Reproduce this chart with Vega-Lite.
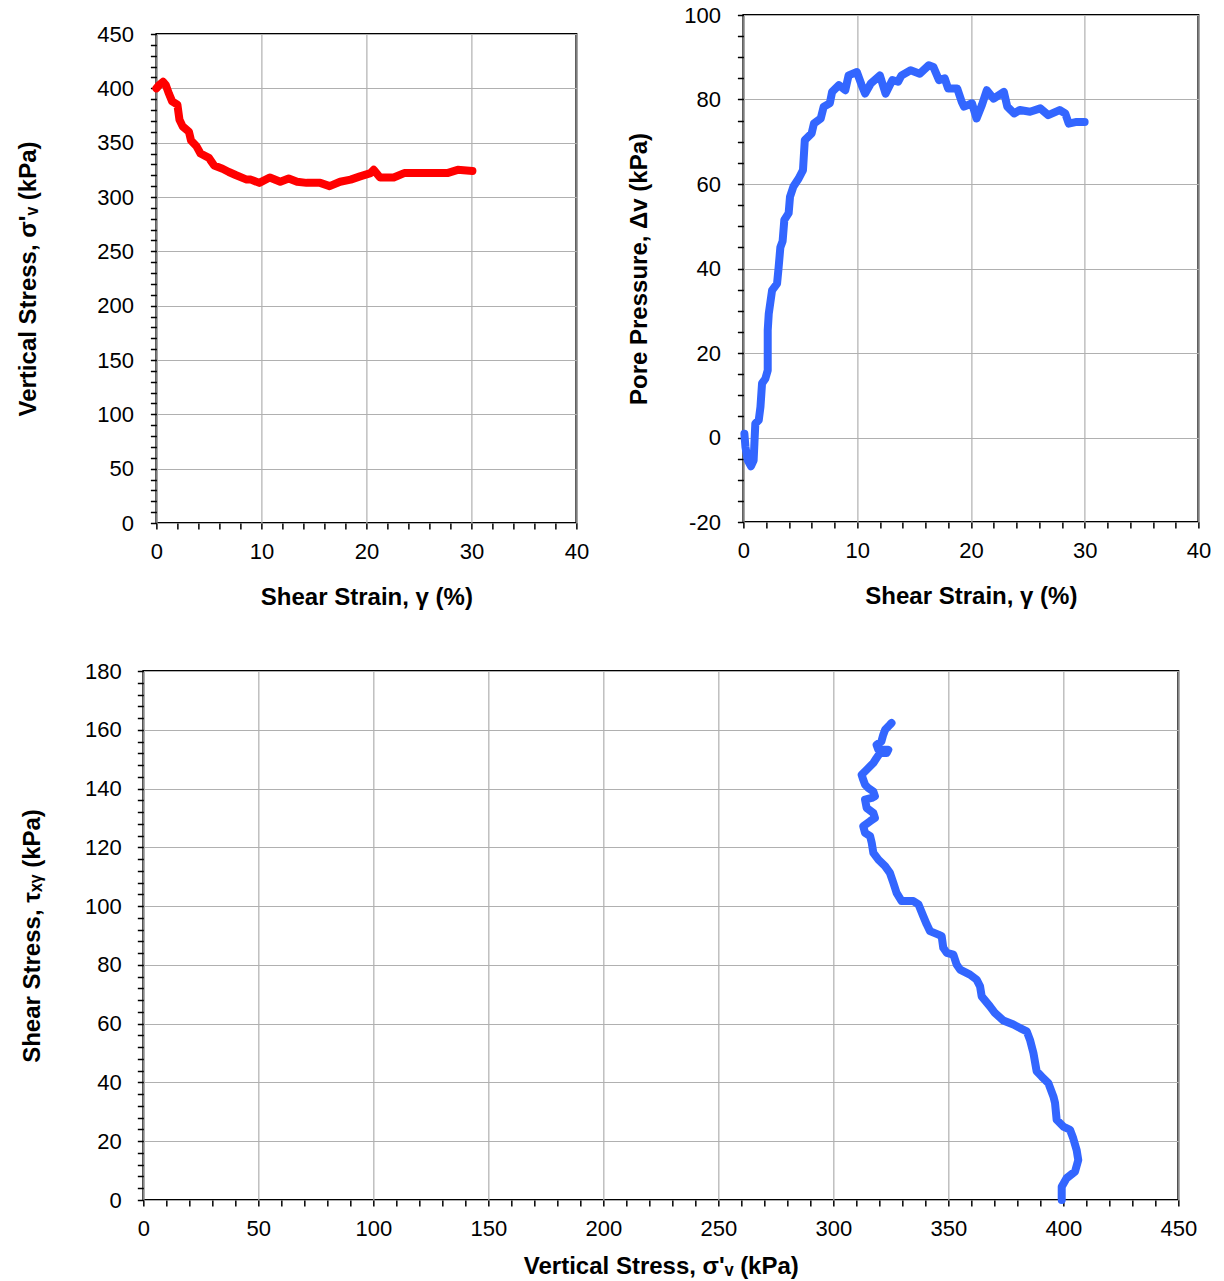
{
  "$schema": "https://vega.github.io/schema/vega-lite/v6.json",
  "background": "white",
  "padding": {"left": 15, "top": 3, "right": 0, "bottom": 0},
  "config": {
    "font": "Liberation Sans",
    "view": {"stroke": "black", "strokeWidth": 2},
    "axis": {
      "labelFont": "Liberation Sans", "labelFontSize": 22, "labelColor": "black",
      "titleFont": "Liberation Sans", "titleFontSize": 24, "titleFontWeight": "bold", "titleColor": "black",
      "tickColor": "black", "tickSize": 6, "tickWidth": 1.5, "domain": false,
      "gridColor": "#b0b0b0", "gridWidth": 1.2, "labelFlush": false, "labelOverlap": false
    }
  },
  "center": true,
  "spacing": 30,
  "vconcat": [
    {
      "spacing": 36,
      "center": true,
      "hconcat": [
        {
          "width": 420, "height": 489,
          "data": {"values": [
            {"i":0,"strain":0,"stress":400},{"i":1,"strain":0.26,"stress":403},{"i":2,"strain":0.64,"stress":406},{"i":3,"strain":0.9,"stress":403},{"i":4,"strain":1.2,"stress":395},{"i":5,"strain":1.5,"stress":388},{"i":6,"strain":2.0,"stress":385},{"i":7,"strain":2.2,"stress":371},{"i":8,"strain":2.5,"stress":365},{"i":9,"strain":3.1,"stress":360},{"i":10,"strain":3.3,"stress":352},{"i":11,"strain":3.8,"stress":347},{"i":12,"strain":4.2,"stress":340},{"i":13,"strain":5.0,"stress":336},{"i":14,"strain":5.5,"stress":329},{"i":15,"strain":6.3,"stress":326},{"i":16,"strain":6.9,"stress":323},{"i":17,"strain":7.6,"stress":320},{"i":18,"strain":8.6,"stress":316},{"i":19,"strain":9.0,"stress":316},{"i":20,"strain":9.8,"stress":313},{"i":21,"strain":10.8,"stress":318},{"i":22,"strain":11.8,"stress":314},{"i":23,"strain":12.6,"stress":317},{"i":24,"strain":13.4,"stress":314},{"i":25,"strain":14.3,"stress":313},{"i":26,"strain":15.6,"stress":313},{"i":27,"strain":16.5,"stress":310},{"i":28,"strain":17.5,"stress":314},{"i":29,"strain":18.5,"stress":316},{"i":30,"strain":19.4,"stress":319},{"i":31,"strain":20.4,"stress":322},{"i":32,"strain":20.7,"stress":325},{"i":33,"strain":21.3,"stress":318},{"i":34,"strain":22.6,"stress":318},{"i":35,"strain":23.6,"stress":322},{"i":36,"strain":25.5,"stress":322},{"i":37,"strain":27.7,"stress":322},{"i":38,"strain":28.7,"stress":325},{"i":39,"strain":30.1,"stress":324}
          ]},
          "mark": {"type": "line", "color": "#ff0000", "strokeWidth": 8, "strokeCap": "round", "strokeJoin": "round"},
          "encoding": {
            "x": {"field": "strain", "type": "quantitative", "scale": {"domain": [0, 40], "nice": false, "zero": false},
              "axis": {"title": "Shear Strain, γ  (%)", "values": [0,2,4,6,8,10,12,14,16,18,20,22,24,26,28,30,32,34,36,38,40],
                "labelExpr": "datum.value % 10 === 0 ? toString(datum.value) : ''",
                "gridOpacity": {"condition": {"test": "datum.value % 10 === 0", "value": 1}, "value": 0},
                "labelPadding": 12, "titlePadding": 23}},
            "y": {"field": "stress", "type": "quantitative", "scale": {"domain": [0, 450], "nice": false, "zero": false},
              "axis": {"title": "Vertical Stress, σ'ᵥ  (kPa)", "values": [0,10,20,30,40,50,60,70,80,90,100,110,120,130,140,150,160,170,180,190,200,210,220,230,240,250,260,270,280,290,300,310,320,330,340,350,360,370,380,390,400,410,420,430,440,450],
                "labelExpr": "datum.value % 50 === 0 ? toString(datum.value) : ''",
                "gridOpacity": {"condition": {"test": "datum.value % 50 === 0", "value": 1}, "value": 0},
                "labelPadding": 17, "titlePadding": 56}},
            "order": {"field": "i", "type": "quantitative"}
          }
        },
        {
          "title": {"text": " ", "orient": "bottom", "fontSize": 2, "offset": 18},
          "width": 455, "height": 507,
          "data": {"values": [
            {"i":0,"strain":0.09,"pp":0.9},{"i":1,"strain":0.18,"pp":-2.2},{"i":2,"strain":0.38,"pp":-5.4},{"i":3,"strain":0.67,"pp":-6.8},{"i":4,"strain":0.9,"pp":-5.4},{"i":5,"strain":0.97,"pp":-1.4},{"i":6,"strain":1.05,"pp":3.3},{"i":7,"strain":1.35,"pp":4.1},{"i":8,"strain":1.5,"pp":7.2},{"i":9,"strain":1.64,"pp":12.8},{"i":10,"strain":1.93,"pp":13.9},{"i":11,"strain":2.14,"pp":15.9},{"i":12,"strain":2.14,"pp":25.4},{"i":13,"strain":2.23,"pp":29.3},{"i":14,"strain":2.52,"pp":34.8},{"i":15,"strain":2.96,"pp":36.4},{"i":16,"strain":3.1,"pp":40.3},{"i":17,"strain":3.25,"pp":45},{"i":18,"strain":3.45,"pp":46.5},{"i":19,"strain":3.6,"pp":51.5},{"i":20,"strain":3.98,"pp":53.1},{"i":21,"strain":4.1,"pp":57},{"i":22,"strain":4.4,"pp":59.4},{"i":23,"strain":4.86,"pp":61.3},{"i":24,"strain":5.24,"pp":63.3},{"i":25,"strain":5.4,"pp":70.4},{"i":26,"strain":6.0,"pp":72},{"i":27,"strain":6.2,"pp":74.3},{"i":28,"strain":6.8,"pp":75.5},{"i":29,"strain":7.06,"pp":78.3},{"i":30,"strain":7.6,"pp":79.1},{"i":31,"strain":7.8,"pp":81.8},{"i":32,"strain":8.4,"pp":83.4},{"i":33,"strain":8.96,"pp":82.2},{"i":34,"strain":9.25,"pp":85.7},{"i":35,"strain":9.98,"pp":86.5},{"i":36,"strain":10.4,"pp":83.4},{"i":37,"strain":10.7,"pp":81.4},{"i":38,"strain":11.2,"pp":83.8},{"i":39,"strain":12.0,"pp":85.7},{"i":40,"strain":12.5,"pp":81.4},{"i":41,"strain":13.1,"pp":84.6},{"i":42,"strain":13.6,"pp":84.2},{"i":43,"strain":13.9,"pp":85.7},{"i":44,"strain":14.7,"pp":86.9},{"i":45,"strain":15.5,"pp":86.1},{"i":46,"strain":16.3,"pp":88.1},{"i":47,"strain":16.7,"pp":87.7},{"i":48,"strain":17.2,"pp":84.6},{"i":49,"strain":17.7,"pp":85},{"i":50,"strain":18.0,"pp":82.6},{"i":51,"strain":18.8,"pp":82.6},{"i":52,"strain":19.2,"pp":79.4},{"i":53,"strain":19.4,"pp":78.3},{"i":54,"strain":20.1,"pp":79.1},{"i":55,"strain":20.5,"pp":75.5},{"i":56,"strain":20.97,"pp":78.7},{"i":57,"strain":21.4,"pp":82.2},{"i":58,"strain":22.0,"pp":80.2},{"i":59,"strain":22.9,"pp":81.8},{"i":60,"strain":23.2,"pp":78.3},{"i":61,"strain":23.8,"pp":76.7},{"i":62,"strain":24.3,"pp":77.5},{"i":63,"strain":25.2,"pp":77.1},{"i":64,"strain":26.1,"pp":77.9},{"i":65,"strain":26.8,"pp":76.3},{"i":66,"strain":27.8,"pp":77.5},{"i":67,"strain":28.3,"pp":76.7},{"i":68,"strain":28.6,"pp":74.3},{"i":69,"strain":29.3,"pp":74.7},{"i":70,"strain":30.0,"pp":74.7}
          ]},
          "mark": {"type": "line", "color": "#3366ff", "strokeWidth": 8, "strokeCap": "round", "strokeJoin": "round"},
          "encoding": {
            "x": {"field": "strain", "type": "quantitative", "scale": {"domain": [0, 40], "nice": false, "zero": false},
              "axis": {"title": "Shear Strain, γ  (%)", "values": [0,2,4,6,8,10,12,14,16,18,20,22,24,26,28,30,32,34,36,38,40],
                "labelExpr": "datum.value % 10 === 0 ? toString(datum.value) : ''",
                "gridOpacity": {"condition": {"test": "datum.value % 10 === 0", "value": 1}, "value": 0},
                "labelPadding": 12, "titlePadding": 23}},
            "y": {"field": "pp", "type": "quantitative", "scale": {"domain": [-20, 100], "nice": false, "zero": false},
              "axis": {"title": "Pore Pressure, Δv (kPa)", "values": [-20,-15,-10,-5,0,5,10,15,20,25,30,35,40,45,50,55,60,65,70,75,80,85,90,95,100],
                "labelExpr": "datum.value % 20 === 0 ? toString(datum.value) : ''",
                "gridOpacity": {"condition": {"test": "datum.value % 20 === 0", "value": 1}, "value": 0},
                "labelPadding": 17, "titlePadding": 32}},
            "order": {"field": "i", "type": "quantitative"}
          }
        }
      ]
    },
    {
      "title": {"text": " ", "orient": "right", "fontSize": 2, "offset": 25},
      "width": 1035, "height": 529,
      "data": {"values": [
        {"i":0,"sigma":399.3,"tau":0},{"i":1,"sigma":399.3,"tau":4.5},{"i":2,"sigma":401.4,"tau":7.4},{"i":3,"sigma":405.1,"tau":9.7},{"i":4,"sigma":406.5,"tau":13.6},{"i":5,"sigma":405.8,"tau":17},{"i":6,"sigma":404.3,"tau":21},{"i":7,"sigma":402.9,"tau":23.9},{"i":8,"sigma":400,"tau":25},{"i":9,"sigma":397.1,"tau":27.3},{"i":10,"sigma":396.4,"tau":33},{"i":11,"sigma":395.7,"tau":35.2},{"i":12,"sigma":393.5,"tau":39.8},{"i":13,"sigma":390.6,"tau":42},{"i":14,"sigma":388.4,"tau":43.8},{"i":15,"sigma":387,"tau":50},{"i":16,"sigma":385.5,"tau":54.5},{"i":17,"sigma":384.1,"tau":57.4},{"i":18,"sigma":381.2,"tau":58.5},{"i":19,"sigma":378.3,"tau":59.7},{"i":20,"sigma":373.9,"tau":61.1},{"i":21,"sigma":370.3,"tau":63.6},{"i":22,"sigma":368.1,"tau":65.9},{"i":23,"sigma":364.5,"tau":69.3},{"i":24,"sigma":363.8,"tau":72.7},{"i":25,"sigma":362.3,"tau":75},{"i":26,"sigma":359.4,"tau":76.7},{"i":27,"sigma":355.1,"tau":78.4},{"i":28,"sigma":353.6,"tau":80.1},{"i":29,"sigma":352.2,"tau":83.5},{"i":30,"sigma":349.3,"tau":84.1},{"i":31,"sigma":347.8,"tau":85.8},{"i":32,"sigma":347.1,"tau":89.8},{"i":33,"sigma":345.7,"tau":90.3},{"i":34,"sigma":342,"tau":91.5},{"i":35,"sigma":340.6,"tau":93.8},{"i":36,"sigma":339.1,"tau":96.6},{"i":37,"sigma":337,"tau":100.6},{"i":38,"sigma":334.8,"tau":101.7},{"i":39,"sigma":329.7,"tau":101.7},{"i":40,"sigma":327.5,"tau":104.5},{"i":41,"sigma":326.1,"tau":107.9},{"i":42,"sigma":324.6,"tau":111.3},{"i":43,"sigma":322.5,"tau":113.6},{"i":44,"sigma":319.6,"tau":115.8},{"i":45,"sigma":317.4,"tau":118.1},{"i":46,"sigma":316.7,"tau":121.5},{"i":47,"sigma":316,"tau":123.8},{"i":48,"sigma":313.8,"tau":124.9},{"i":49,"sigma":313,"tau":127.2},{"i":50,"sigma":316,"tau":128.9},{"i":51,"sigma":318.1,"tau":130},{"i":52,"sigma":317.4,"tau":131.7},{"i":53,"sigma":314.5,"tau":133.4},{"i":54,"sigma":313.8,"tau":136.2},{"i":55,"sigma":316.7,"tau":136.8},{"i":56,"sigma":318.1,"tau":137.4},{"i":57,"sigma":317.4,"tau":139},{"i":58,"sigma":315.2,"tau":140.2},{"i":59,"sigma":313.8,"tau":141.3},{"i":60,"sigma":313,"tau":143},{"i":61,"sigma":312.3,"tau":144.7},{"i":62,"sigma":314.5,"tau":146.4},{"i":63,"sigma":317.4,"tau":148.7},{"i":64,"sigma":318.8,"tau":150.4},{"i":65,"sigma":320.3,"tau":152.1},{"i":66,"sigma":323.2,"tau":152.1},{"i":67,"sigma":323.9,"tau":153.2},{"i":68,"sigma":319.6,"tau":153.2},{"i":69,"sigma":318.8,"tau":154.9},{"i":70,"sigma":320.9,"tau":156},{"i":71,"sigma":321.7,"tau":158.3},{"i":72,"sigma":322.5,"tau":160},{"i":73,"sigma":324.6,"tau":161.7},{"i":74,"sigma":325.3,"tau":162.3}
      ]},
      "mark": {"type": "line", "color": "#3366ff", "strokeWidth": 8, "strokeCap": "round", "strokeJoin": "round"},
      "encoding": {
        "x": {"field": "sigma", "type": "quantitative", "scale": {"domain": [0, 450], "nice": false, "zero": false},
          "axis": {"title": "Vertical Stress, σ'ᵥ  (kPa)", "values": [0,10,20,30,40,50,60,70,80,90,100,110,120,130,140,150,160,170,180,190,200,210,220,230,240,250,260,270,280,290,300,310,320,330,340,350,360,370,380,390,400,410,420,430,440,450],
            "labelExpr": "datum.value % 50 === 0 ? toString(datum.value) : ''",
            "gridOpacity": {"condition": {"test": "datum.value % 50 === 0", "value": 1}, "value": 0},
            "labelPadding": 12, "titlePadding": 15}},
        "y": {"field": "tau", "type": "quantitative", "scale": {"domain": [0, 180], "nice": false, "zero": false},
          "axis": {"title": "Shear Stress, τₓᵧ (kPa)", "values": [0,4,8,12,16,20,24,28,32,36,40,44,48,52,56,60,64,68,72,76,80,84,88,92,96,100,104,108,112,116,120,124,128,132,136,140,144,148,152,156,160,164,168,172,176,180],
            "labelExpr": "datum.value % 20 === 0 ? toString(datum.value) : ''",
            "gridOpacity": {"condition": {"test": "datum.value % 20 === 0", "value": 1}, "value": 0},
            "labelPadding": 16, "titlePadding": 40}},
        "order": {"field": "i", "type": "quantitative"}
      }
    }
  ]
}
